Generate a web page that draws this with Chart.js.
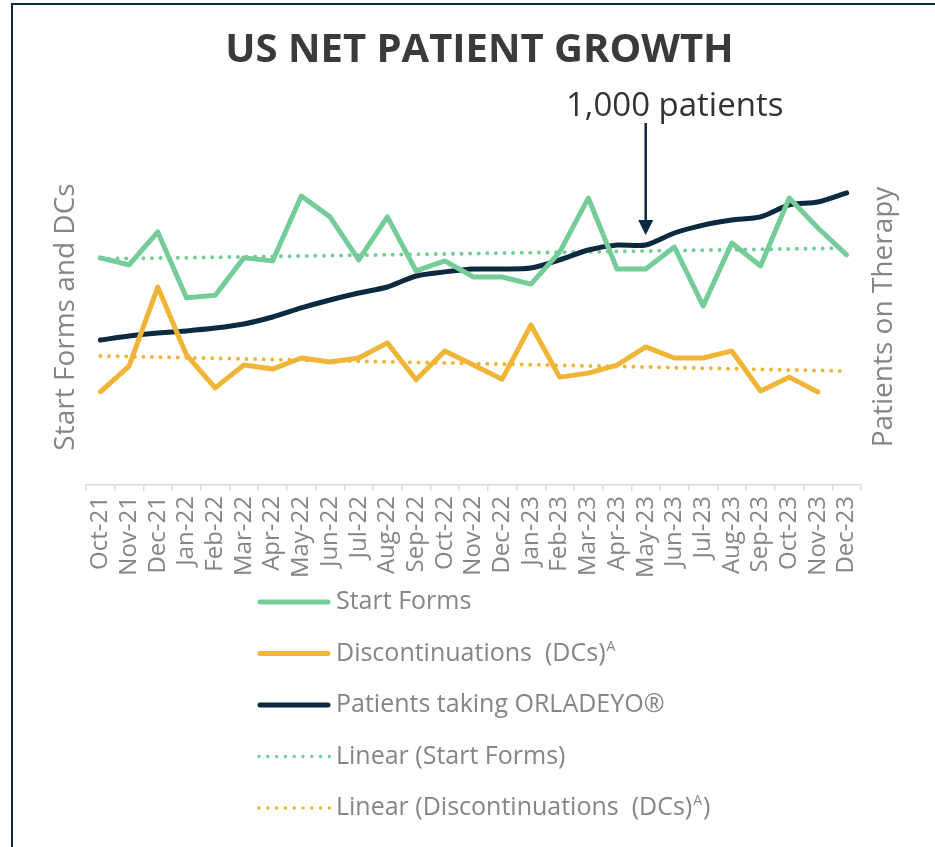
<!DOCTYPE html>
<html>
<head>
<meta charset="utf-8">
<script src="https://cdn.jsdelivr.net/npm/chart.js@4.4.1/dist/chart.umd.min.js"></script>
<style>
  html, body { margin: 0; padding: 0; background: #ffffff; }
  #wrap { position: relative; width: 935px; height: 847px; overflow: hidden; }
  #c { display: block; }
  .frame { position: absolute; background: #0b2a40; }
</style>
</head>
<body>
<div id="wrap">
  <canvas id="c" width="935" height="847"></canvas>
  <div class="frame" style="left:11px;top:3px;width:924px;height:2px;"></div>
  <div class="frame" style="left:11px;top:3px;width:2px;height:844px;"></div>
</div>
<script>
// ---------------- DATA ----------------
const months = ['Oct-21','Nov-21','Dec-21','Jan-22','Feb-22','Mar-22','Apr-22','May-22','Jun-22','Jul-22','Aug-22','Sep-22','Oct-22','Nov-22','Dec-22','Jan-23','Feb-23','Mar-23','Apr-23','May-23','Jun-23','Jul-23','Aug-23','Sep-23','Oct-23','Nov-23','Dec-23'];
const startForms = [67.6,65.5,75.3,55.7,56.5,67.6,66.7,86.0,79.8,67.0,79.8,63.7,66.7,61.9,61.9,59.8,69.3,85.4,64.3,64.3,70.8,53.3,72.0,65.2,85.4,76.5,68.5];
const discontinuations = [27.7,35.4,58.9,38.7,28.9,35.7,34.5,37.8,36.6,37.8,42.3,31.3,39.9,35.7,31.5,47.6,32.1,33.3,35.7,41.1,37.8,37.8,39.9,28.0,32.1,27.7,null];
const patientsOnTherapy = [604,621,633,642,654,671,700,738,771,800,825,871,888,900,900,904,938,979,1000,1000,1050,1083,1104,1117,1167,1179,1217];
const startFormsTrend = [67.3,null,null,null,null,null,null,null,null,null,null,null,null,null,null,null,null,null,null,null,null,null,null,null,null,null,70.5];
const dcTrend = [38.4,null,null,null,null,null,null,null,null,null,null,null,null,null,null,null,null,null,null,null,null,null,null,null,null,null,33.9];
const seriesLabels = ['Start Forms','Discontinuations  (DCs)ᴬ','Patients taking ORLADEYO®','Linear (Start Forms)','Linear (Discontinuations  (DCs)ᴬ)'];
const chartTitle = 'US NET PATIENT GROWTH';
const leftAxisTitle = 'Start Forms and DCs';
const rightAxisTitle = 'Patients on Therapy';
const annotationLabel = '1,000 patients';
const annotationMonth = 'May-23';

// ---------------- STYLE ----------------
const GREEN = '#74cc98';
const ORANGE = '#f0b436';
const NAVY = '#0b2a40';
const GRAY = '#858585';
const FONT = '"Open Sans", "DejaVu Sans", sans-serif';
Chart.defaults.font.family = FONT;

// draw text with superscript marker 'ᴬ'
function drawRich(ctx, text, x, y, size, color) {
  const parts = text.split('ᴬ');
  let cx = x;
  ctx.fillStyle = color;
  ctx.textBaseline = 'middle';
  ctx.textAlign = 'left';
  parts.forEach((p, i) => {
    ctx.font = `${size}px ${FONT}`;
    ctx.fillText(p, cx, y);
    cx += ctx.measureText(p).width;
    if (i < parts.length - 1) {
      ctx.font = `${Math.round(size * 0.55)}px ${FONT}`;
      ctx.fillText('A', cx + 1, y - size * 0.26);
      cx += ctx.measureText('A').width + 2;
    }
  });
}

const stackLegend = {
  id: 'stackLegend',
  afterDraw(chart) {
    const ctx = chart.ctx;
    const ca = chart.chartArea;
    const x0 = 258, len = 72, textX = 336;
    const y0 = ca.bottom + 117, step = 51.5;
    chart.data.datasets.forEach((ds, i) => {
      const y = y0 + i * step;
      ctx.save();
      ctx.strokeStyle = ds.borderColor;
      ctx.lineCap = 'round';
      if (ds.borderDash && ds.borderDash.length) {
        ctx.lineWidth = 3.5;
        ctx.setLineDash([0, 8.8]);
        ctx.beginPath(); ctx.moveTo(x0 + 1, y); ctx.lineTo(x0 + len + 1, y); ctx.stroke();
      } else {
        ctx.lineWidth = 5;
        ctx.beginPath(); ctx.moveTo(x0 + 2, y); ctx.lineTo(x0 + len - 2, y); ctx.stroke();
      }
      ctx.restore();
      ctx.save();
      drawRich(ctx, ds.label, textX, y, 25, GRAY);
      ctx.restore();
    });
  }
};

const extras = {
  id: 'extras',
  afterDraw(chart) {
    const ctx = chart.ctx;
    const ca = chart.chartArea;
    // right axis title (reads bottom to top)
    ctx.save();
    ctx.translate(ca.right + 23, (ca.top + ca.bottom) / 2);
    ctx.rotate(-Math.PI / 2);
    ctx.font = `28px ${FONT}`;
    ctx.fillStyle = GRAY;
    ctx.textAlign = 'center';
    ctx.textBaseline = 'middle';
    ctx.fillText(rightAxisTitle, 0, 0);
    ctx.restore();

    // annotation arrow
    const idx = months.indexOf(annotationMonth);
    const x = chart.scales.x.getPixelForValue(idx);
    const yPt = chart.scales.y1.getPixelForValue(patientsOnTherapy[idx]);
    const tip = yPt - 10;
    const top = ca.top - 26;
    ctx.save();
    ctx.strokeStyle = NAVY;
    ctx.fillStyle = NAVY;
    ctx.lineWidth = 2.5;
    ctx.beginPath(); ctx.moveTo(x, top); ctx.lineTo(x, tip - 12); ctx.stroke();
    ctx.beginPath(); ctx.moveTo(x - 7.5, tip - 15); ctx.lineTo(x + 7.5, tip - 15); ctx.lineTo(x, tip); ctx.closePath(); ctx.fill();
    ctx.font = `33px ${FONT}`;
    ctx.fillStyle = '#333333';
    ctx.textAlign = 'center';
    ctx.textBaseline = 'middle';
    ctx.fillText(annotationLabel, x + 29, ca.top - 42);
    ctx.restore();
  }
};

new Chart(document.getElementById('c'), {
  type: 'line',
  data: {
    labels: months,
    datasets: [
      { label: seriesLabels[0], data: startForms, yAxisID: 'y', borderColor: GREEN, backgroundColor: GREEN, borderWidth: 5, pointRadius: 0, tension: 0, borderCapStyle: 'round', borderJoinStyle: 'round' },
      { label: seriesLabels[1], data: discontinuations, yAxisID: 'y', borderColor: ORANGE, backgroundColor: ORANGE, borderWidth: 5, pointRadius: 0, tension: 0, borderCapStyle: 'round', borderJoinStyle: 'round' },
      { label: seriesLabels[2], data: patientsOnTherapy, yAxisID: 'y1', borderColor: NAVY, backgroundColor: NAVY, borderWidth: 5, pointRadius: 0, tension: 0.25, borderCapStyle: 'round', borderJoinStyle: 'round' },
      { label: seriesLabels[3], data: startFormsTrend, yAxisID: 'y', borderColor: GREEN, backgroundColor: GREEN, borderWidth: 4, borderDash: [0, 8.6], borderCapStyle: 'round', pointRadius: 0, spanGaps: true },
      { label: seriesLabels[4], data: dcTrend, yAxisID: 'y', borderColor: ORANGE, backgroundColor: ORANGE, borderWidth: 4, borderDash: [0, 8.6], borderCapStyle: 'round', pointRadius: 0, spanGaps: true }
    ]
  },
  options: {
    responsive: false,
    animation: false,
    layout: { padding: { left: 24, right: 0, top: 0, bottom: 0 } },
    plugins: {
      legend: { display: false },
      tooltip: { enabled: false },
      title: {
        display: true,
        text: chartTitle,
        color: '#3a3a3a',
        font: { size: 40, weight: 'bold', family: FONT },
        padding: { top: 27, bottom: 74 }
      }
    },
    scales: {
      x: {
        offset: true,
        grid: { display: true, drawOnChartArea: false, drawTicks: true, tickLength: 6, color: '#d9d9d9', offset: true, lineWidth: 1.5 },
        border: { display: true, color: '#d9d9d9', width: 1.5 },
        ticks: { autoSkip: false, maxRotation: 90, minRotation: 90, color: GRAY, font: { size: 24 }, padding: 5 },
        afterFit: (s) => { s.height = 362; }
      },
      y: {
        position: 'left',
        min: 0, max: 100,
        grid: { display: false },
        border: { display: false },
        ticks: { display: false },
        title: { display: true, text: leftAxisTitle, color: GRAY, font: { size: 28 }, padding: { top: 25, bottom: 0 } },
        afterFit: (s) => { s.width = 62; }
      },
      y1: {
        position: 'right',
        min: 0, max: 1400,
        grid: { display: false },
        border: { display: false },
        ticks: { display: false },
        afterFit: (s) => { s.width = 74; }
      }
    }
  },
  plugins: [stackLegend, extras]
});
</script>
</body>
</html>
